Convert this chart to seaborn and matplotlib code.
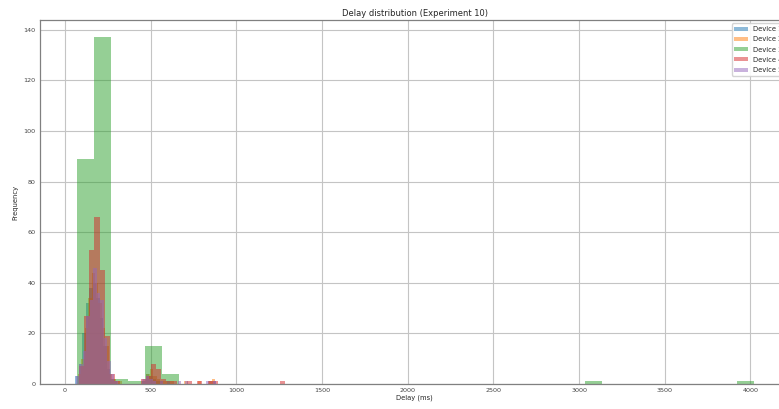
import numpy as np
import pandas as pd
import matplotlib
matplotlib.use("Agg")
from matplotlib import pyplot as plt
import seaborn as sns

# devices, histogram bin start / width and counts
devices = ["Device 1", "Device 2", "Device 3", "Device 4", "Device 5"]

dev1_start, dev1_width = 60, 20.5
dev1_counts = [3, 8, 20, 32, 38, 40, 34, 26, 15, 6, 2, 1, 0, 0, 0, 0, 0, 0, 0, 1,
               4, 3, 2, 1, 1, 0, 1, 0, 0, 0, 0, 0, 0, 0, 0, 0, 0, 0, 1, 1]

dev2_start, dev2_width = 75, 20.0
dev2_counts = [4, 10, 22, 34, 44, 40, 32, 22, 15, 4, 2, 1, 1, 0, 0, 0, 0, 0, 0, 2,
               4, 6, 3, 2, 1, 1, 0, 1, 0, 0, 0, 1, 0, 0, 0, 1, 0, 0, 1, 2]

dev3_start, dev3_width = 72, 98.75
dev3_counts = [89, 137, 2, 1, 15, 4, 0, 0, 0, 0, 0, 0, 0, 0, 0, 0, 0, 0, 0, 0,
               0, 0, 0, 0, 0, 0, 0, 0, 0, 0, 1, 0, 0, 0, 0, 0, 0, 0, 0, 1]

dev4_start, dev4_width = 82, 30.0
dev4_counts = [7, 27, 53, 66, 45, 19, 4, 1, 0, 0, 0, 0, 2, 3, 8, 6, 2, 1, 1, 0,
               0, 1, 0, 1, 0, 1, 1, 0, 0, 0, 0, 0, 0, 0, 0, 0, 0, 0, 0, 1]

dev5_start, dev5_width = 62, 20.5
dev5_counts = [3, 8, 13, 27, 33, 46, 36, 33, 18, 9, 4, 1, 0, 0, 0, 0, 0, 0, 0, 2,
               3, 2, 1, 0, 1, 0, 0, 0, 0, 1, 0, 1, 0, 0, 0, 0, 0, 1, 0, 1]

hist_data = [
    (dev1_start, dev1_width, dev1_counts),
    (dev2_start, dev2_width, dev2_counts),
    (dev3_start, dev3_width, dev3_counts),
    (dev4_start, dev4_width, dev4_counts),
    (dev5_start, dev5_width, dev5_counts),
]

sns.set_style("whitegrid", {
    "grid.color": "#c4c4c4",
    "axes.edgecolor": "#808080",
})
plt.rcParams["font.family"] = ["DejaVu Sans"]

fig = plt.figure(figsize=(7.79, 4.09), dpi=100)
ax = fig.add_axes([40 / 779, 25 / 409, 749 / 779, 364 / 409])

colors = sns.color_palette("tab10", 5)
for name, (start, width, counts), color in zip(devices, hist_data, colors):
    n = len(counts)
    edges = [start + width * i for i in range(n + 1)]
    df = pd.DataFrame({
        "delay": [(edges[i] + edges[i + 1]) / 2 for i in range(n)],
        "count": [float(c) for c in counts],
    })
    sns.histplot(data=df, x="delay", weights="count", bins=edges, color=color,
                 alpha=0.5, linewidth=0, label=name, ax=ax)

ax.set_xlim(-146, 4225)
ax.set_xticks(np.arange(0, 4001, 500))
ax.set_yticks(np.arange(0, 141, 20))
ax.tick_params(length=0, labelsize=4.6, labelcolor="#444444", pad=3)
for s in ax.spines.values():
    s.set_linewidth(0.9)
ax.grid(True, linewidth=0.8)

ax.set_title("Delay distribution (Experiment 10)", fontsize=6, pad=3)
ax.set_xlabel("Delay (ms)", fontsize=4.9, labelpad=1)
ax.set_ylabel("Frequency", fontsize=4.9, labelpad=4)
ax.legend(loc="upper right", fontsize=4.9, frameon=True, framealpha=0.9,
          edgecolor="#d0d0d0", borderaxespad=0.5, labelspacing=0.62,
          handleheight=0.5)

plt.savefig("out.png", dpi=100)
